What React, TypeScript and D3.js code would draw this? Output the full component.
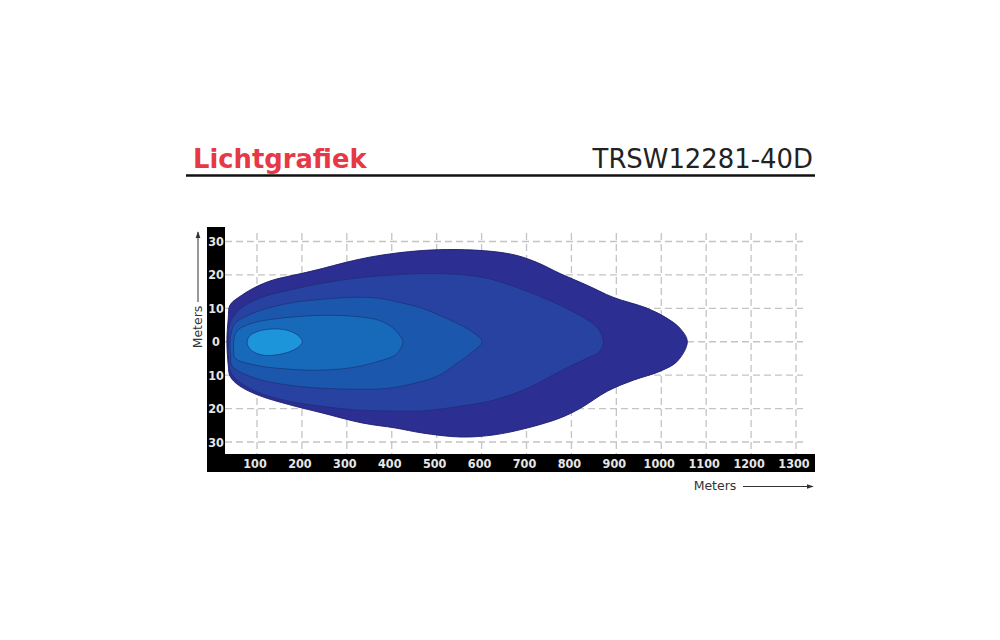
import React from "react";
import * as d3 from "d3";

// ---- data ----
const titleLeft = "Lichtgrafiek";
const titleRight = "TRSW12281-40D";
const xTicks = [100, 200, 300, 400, 500, 600, 700, 800, 900, 1000, 1100, 1200, 1300];
const yTicks = [30, 20, 10, 0, -10, -20, -30];
const axisLabel = "Meters";

// iso-lux contours, [distance m, lateral m], outermost first
const contour1: [number, number][] = [
  [33, 0], [36, 7], [40, 11], [67, 14], [96, 16.3], [134, 18.4], [198, 20.4], [245, 21.9],
  [296, 23.7], [350, 25.3], [408, 26.5], [468, 27.3], [541, 27.6], [626, 27], [679, 25.8],
  [724, 23.7], [775, 20.4], [835, 16.9], [893, 13.3], [969, 10], [1013, 7], [1042, 4],
  [1058, 0], [1036, -5.8], [998, -8.8], [938, -11.5], [880, -14.8], [820, -19.9],
  [775, -22.8], [702, -25.8], [626, -27.9], [552, -28.5], [468, -27.3], [408, -25.8],
  [334, -24.3], [245, -21.3], [171, -18.8], [105, -16.1], [60, -13.1], [40, -10.3], [36, -7],
];
const contour2: [number, number][] = [
  [36, 0], [39, 5], [45, 7], [67, 10.3], [111, 13.3], [171, 15.4], [245, 17.5], [318, 19.0],
  [394, 19.9], [468, 20.4], [552, 20.1], [612, 19.0], [664, 16.9], [724, 13.9], [775, 10.9],
  [826, 7.3], [857, 4.3], [871, 0], [862, -3], [835, -4.9], [775, -8.8], [702, -13.9],
  [626, -17.5], [552, -19.3], [468, -20.7], [394, -20.7], [318, -20.4], [245, -19.3],
  [171, -17.8], [96, -14.8], [51, -10.9], [40, -8.5], [37, -5],
];
const contour3: [number, number][] = [
  [40, 0], [43, 3], [51, 5.5], [96, 8.8], [171, 11.5], [245, 12.7], [318, 13.3], [372, 13],
  [416, 11.8], [468, 10], [506, 7.9], [541, 5.8], [581, 2.8], [601, 0], [578, -3.2],
  [545, -6.5], [506, -10], [468, -11.8], [394, -13.9], [318, -14.2], [245, -13.9],
  [171, -13], [96, -10.9], [45, -7.3], [41, -4],
];
const contour4: [number, number][] = [
  [48, 0], [52, 2.5], [60, 3.8], [96, 5.8], [171, 7.3], [245, 7.9], [318, 7.6], [372, 6.4],
  [401, 4.3], [420, 1.5], [425, 0], [420, -2], [408, -4], [372, -5.8], [318, -7.6],
  [245, -8.5], [171, -8.2], [96, -7], [51, -4.9], [48, -2.5],
];
const contour5: [number, number][] = [
  [78, 0], [84, 1.8], [96, 2.8], [118, 3.6], [149, 3.8], [175, 3.1], [192, 1.8], [201, 0],
  [190, -1.8], [163, -3.4], [118, -4.1], [92, -3], [81, -1.5],
];
const contours = [contour1, contour2, contour3, contour4, contour5];
const contourColors = ["#2d2e92", "#2742a0", "#1b58ad", "#1769b9", "#1d95da"];

export default function App() {
  const x = d3.scaleLinear().domain([100, 1300]).range([257, 796]);
  const y = d3.scaleLinear().domain([30, -30]).range([241.5, 442]);
  const line = d3
    .line<[number, number]>()
    .x((d) => x(d[0]))
    .y((d) => y(d[1]))
    .curve(d3.curveCatmullRomClosed.alpha(0.5));

  const plotLeft = 225;
  const plotRight = 803;
  const barTop = 227;
  const barBottom = 472;
  const hBarTop = 454;
  const barRight = 815;
  const gridTop = 233;
  const font = "'DejaVu Sans', Verdana, sans-serif";
  const condFont = "'DejaVu Sans Condensed', 'DejaVu Sans', sans-serif";

  return (
    <div style={{ position: "absolute", left: 0, top: 0 }}>
      <svg width={1000} height={640} style={{ display: "block", background: "#fff" }}>
        <defs>
          <marker id="arr" viewBox="0 0 10 10" refX="9" refY="5" markerWidth="7" markerHeight="7" orient="auto">
            <path d="M0,1.5 L10,5 L0,8.5 Z" fill="#333" />
          </marker>
        </defs>
        {/* header */}
        <text x={193} y={168} fill="#e63946" fontFamily={font} fontWeight="bold" fontSize={25.8}>
          {titleLeft}
        </text>
        <text x={813} y={168} fill="#222" fontFamily={font} fontSize={25.9} textAnchor="end">
          {titleRight}
        </text>
        <line x1={186} x2={815} y1={175.5} y2={175.5} stroke="#111" strokeWidth={2.4} />

        {/* grid */}
        <g stroke="#c4c4c4" strokeWidth={1.3} strokeDasharray="7,4">
          {xTicks.map((t) => (
            <line key={"vx" + t} x1={x(t)} x2={x(t)} y1={gridTop} y2={hBarTop} />
          ))}
          {yTicks.map((t) => (
            <line key={"hy" + t} x1={plotLeft} x2={plotRight} y1={y(t)} y2={y(t)} />
          ))}
        </g>

        {/* contours */}
        <g>
          {contours.map((c, i) => (
            <path
              key={i}
              d={line(c) || ""}
              fill={contourColors[i]}
              stroke={i === 0 ? "#1c1d6b" : "#1d2a6e"}
              strokeOpacity={i === 0 ? 0.9 : 0.6}
              strokeWidth={1}
            />
          ))}
        </g>

        {/* axis bars */}
        <rect x={207} y={barTop} width={plotLeft - 207} height={barBottom - barTop} fill="#000" />
        <rect x={207} y={hBarTop} width={barRight - 207} height={barBottom - hBarTop} fill="#000" />

        {yTicks.map((t) => (
          <text
            key={"yl" + t}
            x={216}
            y={y(t) + 4.5}
            fill="#e6e6e6"
            fontFamily={condFont}
            fontWeight="bold"
            fontSize={12.5}
            textAnchor="middle"
          >
            {Math.abs(t)}
          </text>
        ))}
        {xTicks.map((t) => (
          <text
            key={"xl" + t}
            x={x(t) - 2}
            y={467.5}
            fill="#e6e6e6"
            fontFamily={condFont}
            fontWeight="bold"
            fontSize={12.5}
            textAnchor="middle"
          >
            {t}
          </text>
        ))}

        {/* axis titles */}
        <text
          transform={`translate(202,327) rotate(-90)`}
          fill="#333"
          fontFamily={font}
          fontSize={12.5}
          textAnchor="middle"
        >
          {axisLabel}
        </text>
        <line x1={198} x2={198} y1={302} y2={232} stroke="#333" strokeWidth={1} markerEnd="url(#arr)" />
        <text x={715} y={489.5} fill="#333" fontFamily={font} fontSize={12.5} textAnchor="middle">
          {axisLabel}
        </text>
        <line x1={743} x2={813} y1={486.5} y2={486.5} stroke="#333" strokeWidth={1} markerEnd="url(#arr)" />
      </svg>
    </div>
  );
}
